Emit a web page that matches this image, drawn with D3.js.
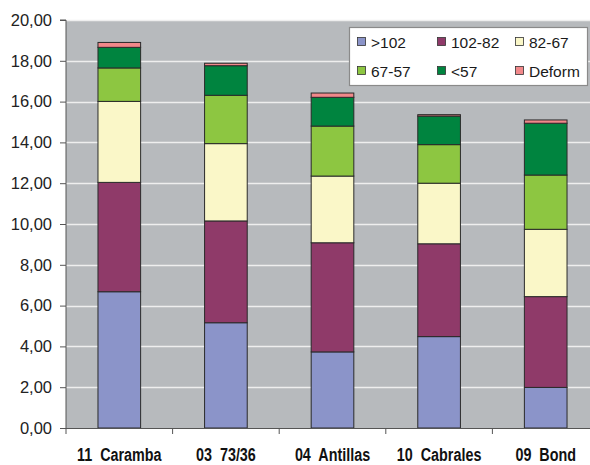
<!DOCTYPE html>
<html>
<head>
<meta charset="utf-8">
<script src="https://cdn.jsdelivr.net/npm/d3@7"></script>
<style>
  html, body { margin: 0; padding: 0; background: #ffffff; overflow: hidden; }
  svg { display: block; }
</style>
</head>
<body>
<svg id="chart" width="590" height="465"></svg>
<script>
// Categories (farms / lots)
const categories = ["11  Caramba", "03  73/36", "04  Antillas", "10  Cabrales", "09  Bond"];

// Size classes, bottom to top of each stack
const seriesNames = [">102", "102-82", "82-67", "67-57", "<57", "Deform"];
const seriesColors = ["#8b94c9", "#8f3a69", "#faf7c8", "#8dc641", "#00843f", "#f2888a"];

// Values per size class, one per category
const gt102   = [6.68, 5.16, 3.73, 4.48, 1.99];
const c102_82 = [5.36, 4.99, 5.35, 4.55, 4.45];
const c82_67  = [3.97, 3.79, 3.27, 2.97, 3.30];
const c67_57  = [1.64, 2.37, 2.45, 1.89, 2.66];
const lt57    = [1.01, 1.45, 1.41, 1.40, 2.54];
const deform  = [0.24, 0.12, 0.21, 0.07, 0.16];

// Y axis tick labels
const yTicks = [0, 2, 4, 6, 8, 10, 12, 14, 16, 18, 20];

const seriesValues = [gt102, c102_82, c82_67, c67_57, lt57, deform];
const rows = categories.map((c, i) => {
  const r = { category: c };
  seriesNames.forEach((s, k) => { r[s] = seriesValues[k][i]; });
  return r;
});

const svg = d3.select("#chart");
const margin = { left: 66, top: 20, right: -9, bottom: 37 };
const W = 590, H = 465;
const plotW = W - margin.left - margin.right;
const plotH = H - margin.top - margin.bottom;

const x = d3.scaleBand().domain(categories).range([margin.left, margin.left + plotW]).paddingInner(0.6).paddingOuter(0.3);
const y = d3.scaleLinear().domain([0, 20]).range([margin.top + plotH, margin.top]);

// plot background
svg.append("rect")
  .attr("x", margin.left).attr("y", margin.top)
  .attr("width", plotW).attr("height", plotH)
  .attr("fill", "#b7babd");

// horizontal gridlines
svg.append("g")
  .selectAll("line")
  .data(yTicks.filter(t => t > 0))
  .join("line")
  .attr("x1", margin.left).attr("x2", margin.left + plotW)
  .attr("y1", d => Math.round(y(d)) + 0.5).attr("y2", d => Math.round(y(d)) + 0.5)
  .attr("stroke", "#eeeeee").attr("stroke-width", 1.3);

// stacked bars
const stack = d3.stack().keys(seriesNames);
const layers = stack(rows);

svg.append("g")
  .selectAll("g")
  .data(layers)
  .join("g")
  .attr("fill", (d, i) => seriesColors[i])
  .selectAll("rect")
  .data(d => d)
  .join("rect")
  .attr("x", d => x(d.data.category))
  .attr("y", d => y(d[1]))
  .attr("width", x.bandwidth())
  .attr("height", d => y(d[0]) - y(d[1]))
  .attr("stroke", "#2a2a2a")
  .attr("stroke-width", 1);

// y axis
const yAxis = d3.axisLeft(y)
  .tickValues(yTicks)
  .tickSize(6)
  .tickPadding(8)
  .tickFormat(d => d3.format(".2f")(d).replace(".", ","));

const gy = svg.append("g")
  .attr("transform", `translate(${margin.left},0)`)
  .call(yAxis);
gy.select(".domain").attr("stroke", "#555555").attr("d", `M-6,${y(20)}H0V${y(0)}`);
gy.selectAll(".tick line").attr("stroke", "#555555");
gy.selectAll(".tick text")
  .attr("fill", "#222222")
  .attr("font-family", "Liberation Sans, Arial, sans-serif")
  .attr("font-size", 16.5);

// x axis baseline and category separators
const step = x.step();
svg.append("line")
  .attr("x1", margin.left).attr("x2", W)
  .attr("y1", y(0) + 0.5).attr("y2", y(0) + 0.5)
  .attr("stroke", "#555555").attr("stroke-width", 1.2);

svg.append("g")
  .selectAll("line")
  .data(d3.range(categories.length + 1))
  .join("line")
  .attr("x1", i => x(categories[0]) - step * 0.3 + i * step)
  .attr("x2", i => x(categories[0]) - step * 0.3 + i * step)
  .attr("y1", y(0)).attr("y2", y(0) + 6)
  .attr("stroke", "#555555");

// category labels, in a condensed bold face
svg.append("g")
  .selectAll("text")
  .data(categories)
  .join("text")
  .attr("transform", d => `translate(${x(d) + x.bandwidth() / 2},461) scale(0.82,1)`)
  .attr("text-anchor", "middle")
  .attr("font-family", "Liberation Sans, Arial, sans-serif")
  .attr("font-weight", "bold")
  .attr("font-size", 17.5)
  .attr("fill", "#111111")
  .style("white-space", "pre")
  .text(d => d);

// legend
const legend = svg.append("g");
legend.append("rect")
  .attr("x", 349.5).attr("y", 27.5)
  .attr("width", 238).attr("height", 58)
  .attr("fill", "#ffffff")
  .attr("stroke", "#8a8a8a")
  .attr("stroke-width", 1.2);

const colX = [357, 437, 515];
const rowY = [42, 71];
seriesNames.forEach((name, i) => {
  const cx = colX[i % 3], cy = rowY[Math.floor(i / 3)];
  legend.append("rect")
    .attr("x", cx + 0.5).attr("y", cy - 4.5)
    .attr("width", 8).attr("height", 8)
    .attr("fill", seriesColors[i])
    .attr("stroke", "#333333").attr("stroke-width", 0.8);
  legend.append("text")
    .attr("x", cx + 14).attr("y", cy + 5.5)
    .attr("font-family", "Liberation Sans, Arial, sans-serif")
    .attr("font-size", 15.5)
    .attr("fill", "#1a1a1a")
    .text(name);
});
</script>
</body>
</html>
